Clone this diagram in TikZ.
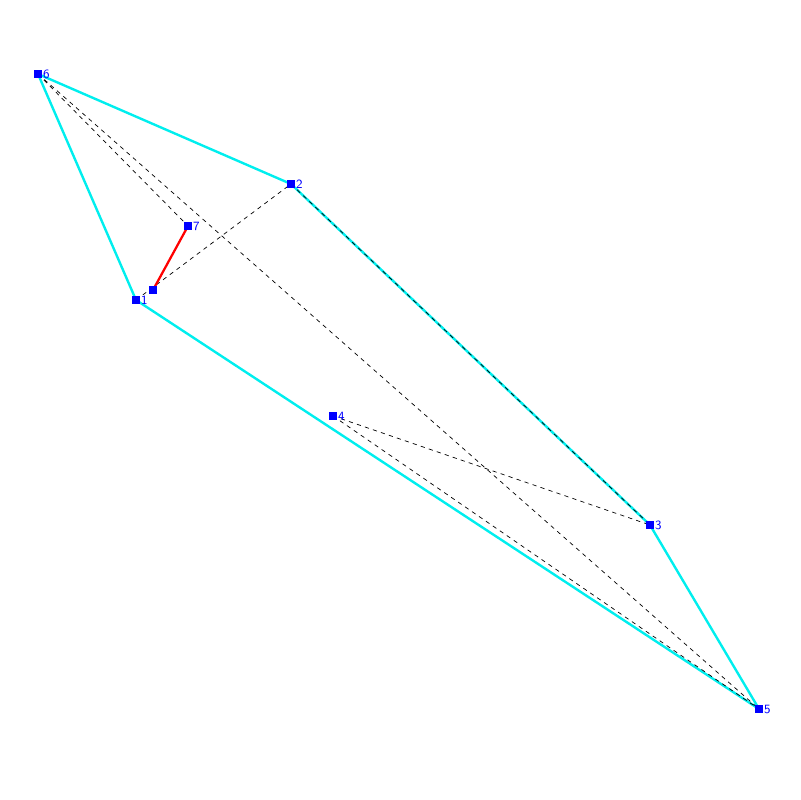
\documentclass[tikz,border=0pt]{standalone}
\usepackage{tikz}
\definecolor{hullcyan}{RGB}{0,238,238}
\definecolor{ptblue}{RGB}{0,0,255}

\begin{document}
\begin{tikzpicture}[
  x=0.025cm,y=-0.025cm,
  pt/.style={rectangle,fill=ptblue,inner sep=0pt,minimum size=0.19cm},
  lbl/.style={font=\sffamily\fontsize{9}{9}\selectfont,text=ptblue,inner sep=0.5pt},
  hull/.style={draw=hullcyan,line width=1.7pt},
  link/.style={draw=black,dashed,dash pattern=on 3pt off 3pt,line width=0.5pt},
  chosen/.style={draw=red,line width=1.6pt}
]
\useasboundingbox (0,0) rectangle (800,800);
\coordinate (c6) at (38,74);
\coordinate (c2) at (291,184);
\coordinate (c7) at (188,226);
\coordinate (ca) at (153,290);
\coordinate (c1) at (136,300);
\coordinate (c4) at (333,416);
\coordinate (c3) at (650,525);
\coordinate (c5) at (759,709);
% hull
\draw[hull] (c6)--(c2)--(c3)--(c5)--(c1)--cycle;
% candidate links
\draw[link] (c6)--(c7);
\draw[link] (c6)--(c5);
\draw[link] (c1)--(c2);
\draw[link] (c2)--(c3);
\draw[link] (c4)--(c3);
\draw[link] (c4)--(c5);
\draw[chosen] (ca)--(c7);
% points
\node[pt,label={[lbl]right:6}] (p6) at (c6) {};
\node[pt,label={[lbl]right:2}] (p2) at (c2) {};
\node[pt,label={[lbl]right:7}] (p7) at (c7) {};
\node[pt] (pa) at (ca) {};
\node[pt,label={[lbl]right:1}] (p1) at (c1) {};
\node[pt,label={[lbl]right:4}] (p4) at (c4) {};
\node[pt,label={[lbl]right:3}] (p3) at (c3) {};
\node[pt,label={[lbl]right:5}] (p5) at (c5) {};
\end{tikzpicture}
\end{document}
